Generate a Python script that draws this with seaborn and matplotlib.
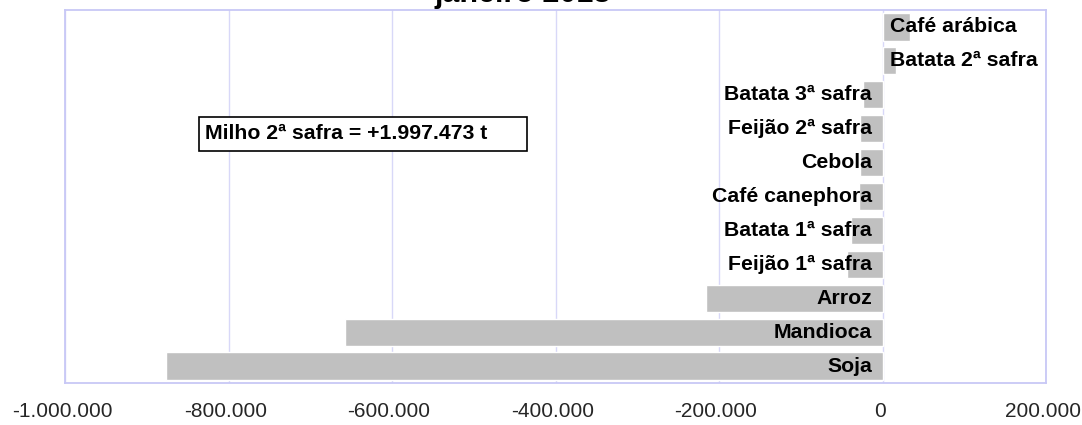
import matplotlib
matplotlib.use("Agg")
import matplotlib.pyplot as plt
import pandas as pd
import seaborn as sns
from matplotlib.patches import Rectangle
from matplotlib.ticker import FuncFormatter
from matplotlib.transforms import ScaledTranslation


# Dados (variacao em toneladas).
CULTURAS = [
    "Café arábica",
    "Batata 2ª safra",
    "Batata 3ª safra",
    "Feijão 2ª safra",
    "Cebola",
    "Café canephora",
    "Batata 1ª safra",
    "Feijão 1ª safra",
    "Arroz",
    "Mandioca",
    "Soja",
]
VARIACAO = [
    33000,
    16800,
    -24500,
    -27000,
    -27000,
    -29400,
    -39000,
    -44000,
    -215700,
    -657000,
    -876000,
]
TICKS_X = [-1000000, -800000, -600000, -400000, -200000, 0, 200000]
TITULO = "janeiro 2018"
NOTA = "Milho 2ª safra = +1.997.473 t"

COR_BARRA = "#C0C0C0"
COR_GRADE = "#D8D8F8"
COR_BORDA = "#C8C8F6"


def formatar_milhar(valor, _pos=None) -> str:
    """Formata numero com ponto como separador de milhar."""
    return f"{int(round(valor)):,}".replace(",", ".")


def main() -> None:
    sns.set_theme(style="white")
    plt.rcParams["font.family"] = ["Liberation Sans", "DejaVu Sans"]

    df = pd.DataFrame({"cultura": CULTURAS, "variacao": VARIACAO})

    fig = plt.figure(figsize=(10.82, 4.25), dpi=100)
    ax = fig.add_axes([0.0601, 0.0988, 0.9067, 0.8777])

    sns.barplot(
        data=df,
        x="variacao",
        y="cultura",
        order=CULTURAS,
        orient="h",
        color=COR_BARRA,
        saturation=1,
        width=0.8,
        ax=ax,
        zorder=2,
    )

    ax.set_xlim(-1000000, 200000)
    ax.set_ylim(len(CULTURAS) - 0.5, -0.5)
    ax.set_xticks(TICKS_X)
    ax.xaxis.set_major_formatter(FuncFormatter(formatar_milhar))
    ax.tick_params(axis="x", length=0, pad=14, labelsize=15)
    ax.set_yticks([])
    ax.set_xlabel("")
    ax.set_ylabel("")

    # Rotulos do eixo x levemente deslocados para a esquerda.
    desloc = ScaledTranslation(-0.03, 0, fig.dpi_scale_trans)
    for rotulo in ax.get_xticklabels():
        rotulo.set_transform(rotulo.get_transform() + desloc)

    ax.grid(axis="x", color=COR_GRADE, linewidth=1, zorder=0)
    ax.set_axisbelow(True)
    for spine in ax.spines.values():
        spine.set_color(COR_BORDA)
        spine.set_linewidth(1.3)

    # Rotulos das culturas junto ao eixo zero.
    for i, (nome, valor) in enumerate(zip(CULTURAS, VARIACAO)):
        if valor < 0:
            ax.text(-13000, i, nome, ha="right", va="center",
                    fontsize=15.3, fontweight="bold", color="black", zorder=3)
        else:
            ax.text(9000, i, nome, ha="left", va="center",
                    fontsize=15.3, fontweight="bold", color="black", zorder=3)

    # Caixa com a nota do milho.
    ax.add_patch(Rectangle((0.1366, 0.622), 0.3344, 0.0912,
                           transform=ax.transAxes, facecolor="white",
                           edgecolor="black", linewidth=1.2, zorder=4))
    ax.text(0.1427, 0.6676, NOTA, transform=ax.transAxes, ha="left",
            va="center", fontsize=15.3, fontweight="bold", color="black",
            zorder=5)

    # Titulo cortado no topo, como na imagem original.
    fig.text(0.483, 1 - 2 / 425, TITULO, ha="center", va="baseline",
             fontsize=22, fontweight="bold", color="black")

    fig.savefig("out.png", dpi=100)
    plt.close(fig)


if __name__ == "__main__":
    main()
